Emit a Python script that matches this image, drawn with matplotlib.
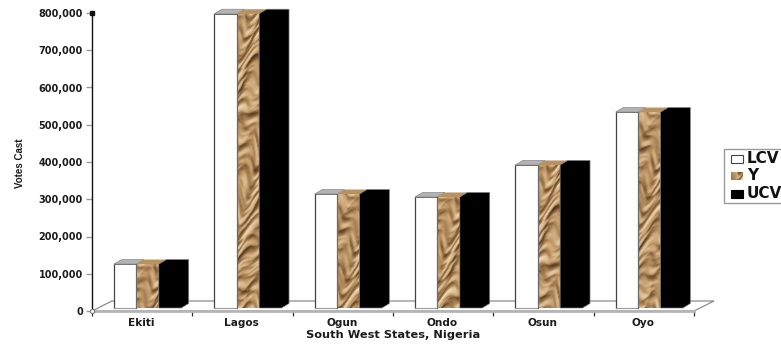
"""
Votes cast per South West state, drawn as a pseudo-3D clustered bar chart.
Saves figure to out.png
"""

import numpy as np
import matplotlib
matplotlib.use("Agg")
import matplotlib.pyplot as plt
from matplotlib.colors import LinearSegmentedColormap
from matplotlib.patches import Polygon, Rectangle

states = ["Ekiti", "Lagos", "Ogun", "Ondo", "Osun", "Oyo"]
lcv = [118000, 790000, 306000, 298000, 384000, 526000]
y_vals = [118000, 790000, 306000, 298000, 384000, 526000]
ucv = [118000, 790000, 306000, 298000, 384000, 526000]
y_ticks = [0, 100000, 200000, 300000, 400000, 500000, 600000, 700000, 800000]
series_names = ["LCV", "Y", "UCV"]

W, H = 781, 344
LEFT, RIGHT, TOP, BOTTOM = 92, 694, 13, 311
YMAX = 800000
X_PX = 6 / (RIGHT - LEFT)         # category units per pixel
Y_PX = YMAX / (BOTTOM - TOP)      # votes per pixel

BAR_W = 0.223
BAR_START = 0.22
LIFT = 3 * Y_PX                   # bars stand slightly behind the floor's front edge
DX, DY = 7.5 * X_PX, 4.5 * Y_PX   # bar depth
FLOOR_DX, FLOOR_DY = 20 * X_PX, 10 * Y_PX

FONT = "DejaVu Sans"
TXT = "#1c1c1c"

crumple = LinearSegmentedColormap.from_list(
    "crumple", ["#4a321d", "#7a5733", "#a37c50", "#c39c6c", "#dcbd92", "#efdcbc"])


def paper_texture(w, h):
    # crumpled paper: a warped ridge height field, lit from the upper left
    yy, xx = np.mgrid[0:h, 0:w].astype(float)
    wx = xx + 7 * np.sin(yy / 19.0) + 4 * np.sin(yy / 8.3 + 1.0)
    wy = yy + 9 * np.sin(xx / 8.1 + yy / 29.0) + 5 * np.sin(yy / 13.0 + xx / 4.0)
    height = np.zeros_like(xx)
    for ang, freq, amp in [(1.15, 0.23, 1.0), (0.7, 0.15, 1.1), (1.45, 0.31, 0.7),
                           (-1.2, 0.19, 0.9), (2.1, 0.27, 0.5), (0.95, 0.09, 1.0)]:
        height += amp * np.abs(np.sin(freq * (wx * np.cos(ang) + wy * np.sin(ang)) + 3 * ang))
    gy, gx = np.gradient(height)
    shade = -gx - 1.2 * gy
    shade = np.tanh(shade / shade.std())
    level = (height - height.mean()) / height.std()
    return np.clip(0.52 + 0.3 * shade + 0.1 * level, 0, 1)


texture = paper_texture(60, 1500)

fig = plt.figure(figsize=(W / 100, H / 100), dpi=100)
ax = fig.add_axes([LEFT / W, 1 - BOTTOM / H, (RIGHT - LEFT) / W, (BOTTOM - TOP) / H])

# floor
floor = Polygon([(0, 0), (6, 0), (6 + FLOOR_DX, FLOOR_DY), (FLOOR_DX, FLOOR_DY)],
                closed=True, facecolor="white", edgecolor="#8c8c8c", lw=0.9,
                clip_on=False, zorder=1)
ax.add_patch(floor)
ax.plot([0, 6], [0, 0], color="#b5b5b5", lw=2.0, clip_on=False, zorder=2)


def draw_bar(x0, value, kind):
    x1 = x0 + BAR_W
    top = value + LIFT
    if kind == "LCV":
        ax.add_patch(Rectangle((x0, LIFT), BAR_W, value, facecolor="white",
                               edgecolor="none", clip_on=False, zorder=4))
        ax.plot([x0, x0], [LIFT, top], color="#444444", lw=0.9, clip_on=False, zorder=4)
        ax.plot([x0, x1], [top, top], color="#666666", lw=0.7, clip_on=False, zorder=4)
        ax.plot([x0, x1], [LIFT, LIFT], color="#9a9a9a", lw=0.8, clip_on=False, zorder=4)
        ax.add_patch(Polygon([(x0, top), (x1, top), (x1 + DX, top + DY), (x0 + DX, top + DY)],
                             facecolor="#b3b3b3", edgecolor="#8a8a8a", lw=0.5,
                             clip_on=False, zorder=4))
    elif kind == "Y":
        n_rows = int(value / Y_PX)
        x_off = int(x0 * 40) % 30
        ax.imshow(texture[:n_rows, x_off:x_off + 24], cmap=crumple, vmin=0, vmax=1,
                  aspect="auto", extent=[x0, x1, LIFT, top], zorder=4,
                  interpolation="bilinear")
        ax.plot([x0, x0], [LIFT, top], color="#6a6a6a", lw=0.9, clip_on=False, zorder=4)
        ax.add_patch(Polygon([(x0, top), (x1, top), (x1 + DX, top + DY), (x0 + DX, top + DY)],
                             facecolor="#b8925f", edgecolor="none", clip_on=False, zorder=4))
    else:
        outline = [(x0, LIFT), (x1, LIFT), (x1 + DX, LIFT + DY), (x1 + DX, top + DY),
                   (x0 + DX, top + DY), (x0, top)]
        ax.add_patch(Polygon(outline, facecolor="black", edgecolor="#808080", lw=0.5,
                             clip_on=False, zorder=5))


for i in range(len(states)):
    x = i + BAR_START
    draw_bar(x, lcv[i], "LCV")
    draw_bar(x + BAR_W, y_vals[i], "Y")
    draw_bar(x + 2 * BAR_W, ucv[i], "UCV")

ax.set_xlim(0, 6)
ax.set_ylim(0, YMAX)
ax.patch.set_alpha(0)

for side in ["top", "right", "bottom"]:
    ax.spines[side].set_visible(False)
ax.spines["left"].set_color("#111111")
ax.spines["left"].set_linewidth(1.0)

ax.set_yticks(y_ticks)
ax.set_yticklabels([f"{v:,}" for v in y_ticks], fontsize=7, fontweight="bold",
                   family=FONT, color=TXT)
ax.tick_params(axis="y", length=4.5, width=1.0, color="#9a9a9a", pad=2)

ax.set_xticks(range(7))
ax.set_xticklabels([])
ax.tick_params(axis="x", length=3.5, width=0.9, color="#333333")
for i, name in enumerate(states):
    ax.text(i + 0.49, -12 * Y_PX, name, ha="center", va="center", fontsize=7.6,
            fontweight="bold", family=FONT, color=TXT, clip_on=False)

ax.plot([0], [YMAX], marker="s", ms=2.5, color="#111111", clip_on=False, zorder=6)
ax.plot([0], [0], marker="o", ms=3, mfc="white", mec="#777777", mew=0.8,
        clip_on=False, zorder=6)

# overlay in figure pixels for axis titles and the legend
ov = fig.add_axes([0, 0, 1, 1])
ov.set_xlim(0, W)
ov.set_ylim(H, 0)
ov.axis("off")
ov.patch.set_alpha(0)

ov.text(393, 335, "South West States, Nigeria", ha="center", va="center", fontsize=8.2,
        fontweight="bold", family=FONT, color=TXT)
ov.text(20, 163, "Votes Cast", rotation=90, ha="center", va="center", fontsize=7,
        fontweight="bold", family="Liberation Sans", color=TXT)

ov.add_patch(Rectangle((724, 149), 70, 54, facecolor="white", edgecolor="#9a9a9a", lw=1.0))
rows = [158.5, 176, 194]
ov.add_patch(Rectangle((730.5, 154.5), 12, 8, facecolor="white", edgecolor="#444444", lw=0.8))
ov.imshow(texture[100:112, :18], cmap=crumple, vmin=0, vmax=1, aspect="auto",
          extent=[730.5, 742.5, 180, 172], zorder=3)
ov.add_patch(Rectangle((730.5, 190), 12, 8, facecolor="black", edgecolor="black", lw=0.8))
ov.set_xlim(0, W)
ov.set_ylim(H, 0)
for name, row in zip(series_names, rows):
    ov.text(747, row, name, ha="left", va="center", fontsize=11, fontweight="bold",
            family=FONT, color="#111111")

fig.savefig("out.png", dpi=100)
plt.close(fig)
